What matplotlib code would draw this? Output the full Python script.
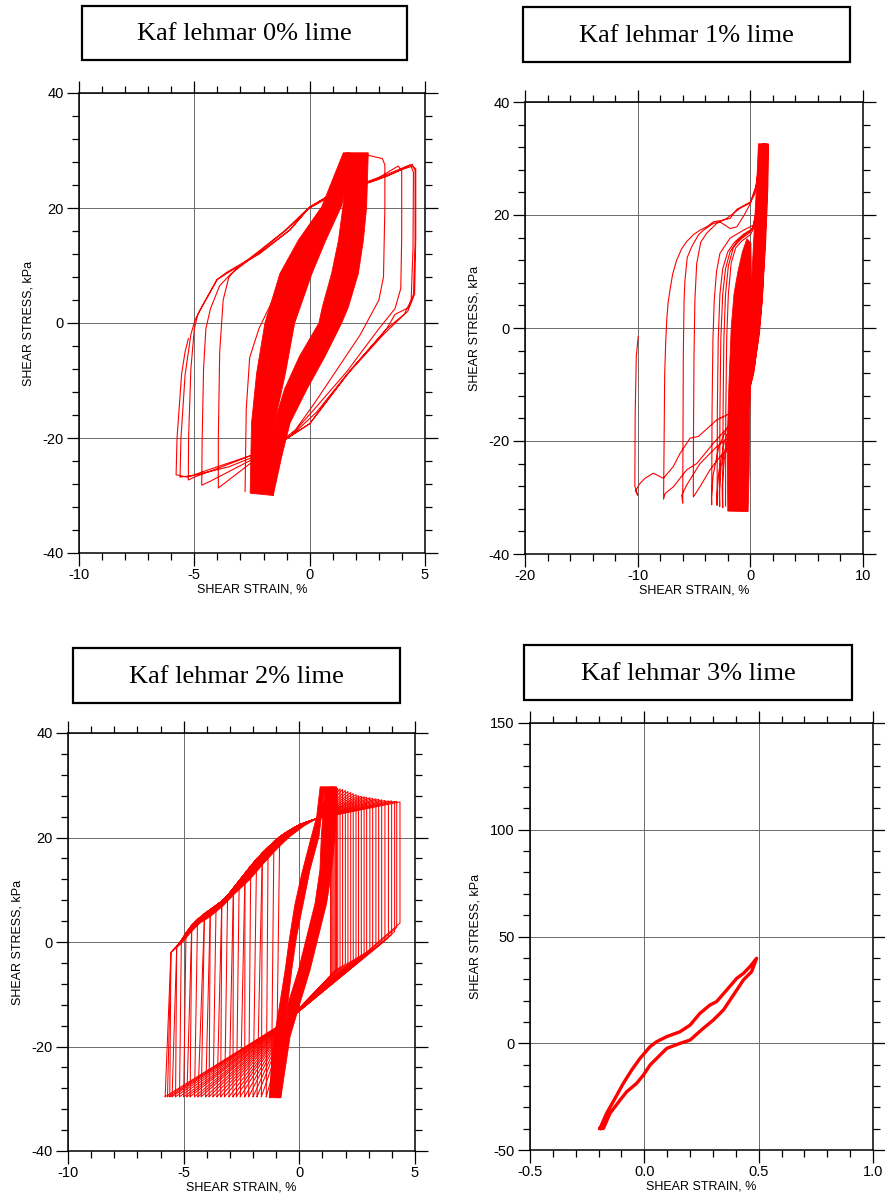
import matplotlib
matplotlib.use("Agg")
import matplotlib.pyplot as plt
from matplotlib.patches import Rectangle
from matplotlib.ticker import MultipleLocator, FormatStrFormatter

plt.rcParams['axes.unicode_minus'] = False
plt.rcParams['font.family'] = ['Liberation Sans', 'DejaVu Sans']

RED = '#ff0000'

# ---------- 1. DATA: Kaf lehmar 0% lime ----------
# dense band of early cycles (boundaries of the loading / unloading branches)
p1_load_out_x = [-2.58, -2.55, -2.52, -2.30, -1.94, -1.29, -0.49, 0.52, 1.46]
p1_load_out_y = [-29.6, -23.2, -17.4, -8.75, 0.0, 8.6, 14.4, 20.2, 29.6]
p1_load_in_x = [-1.58, -1.50, -1.05, -0.65, 0.10, 0.70, 1.40, 1.75]
p1_load_in_y = [-30.0, -17.0, -8.75, 0.0, 8.6, 14.4, 20.5, 29.6]
p1_unld_out_x = [2.54, 2.47, 2.33, 2.11, 1.68, 1.39, 0.66, -0.13, -0.85, -1.21, -1.58]
p1_unld_out_y = [29.6, 20.2, 14.4, 8.6, 2.8, 0.0, -5.85, -11.6, -17.4, -23.2, -30.0]
p1_unld_in_x = [1.60, 1.45, 1.25, 0.95, 0.55, 0.40, -0.45, -1.10, -1.50, -1.60]
p1_unld_in_y = [29.6, 20.5, 14.4, 8.6, 2.8, 0.0, -5.85, -11.6, -17.0, -30.0]

# last large cycles, one continuous record
p1_path_x = [-2.80, -2.75, -2.60, -2.20, -1.60, -0.90, -0.20, 0.60, 1.30, 1.70, 2.50, 3.15, 3.26,
             3.26, 3.20, 3.00, 2.20, 1.20, 0.20, -0.60, -1.50, -2.60, -3.90, -3.96,
             -3.96, -3.90, -3.75, -3.50, -3.17, -2.20, -1.10, -0.10, 0.80, 2.00, 3.00, 3.84, 3.99,
             3.99, 3.95, 3.70, 3.00, 1.60, 0.20, -0.80, -1.80, -3.00, -4.30, -4.68,
             -4.66, -4.60, -4.50, -4.30, -3.90, -3.40, -2.30, -1.00, 0.00, 1.00, 2.20, 3.40, 4.45, 4.57,
             4.57, 4.50, 4.30, 3.70, 3.34, 1.75, 0.00, -1.00, -2.30, -4.00, -5.00, -5.26,
             -5.25, -5.15, -5.00, -4.85, -4.50, -4.00, -3.60, -2.20, -0.85, 0.01, 1.02, 2.00, 3.00, 4.00, 4.40, 4.50,
             4.48, 4.40, 4.10, 3.20, 1.50, 0.30, -0.80, -2.00, -3.50, -5.00, -5.62,
             -5.58, -5.40, -5.15, -4.97, -4.75, -4.03, -3.60, -2.15, -0.85, 0.01, 1.02, 2.10, 3.20, 4.35, 4.60,
             4.60, 4.55, 4.25, 3.34, 1.75, 0.01, -1.00, -2.30, -4.00, -5.30, -5.79,
             -5.75, -5.55, -5.40, -5.26]
p1_path_y = [-29.3, -15.0, -6.0, -1.0, 4.0, 9.5, 14.0, 19.5, 25.0, 29.0, 29.2, 28.6, 27.5,
             20.0, 8.0, 4.0, -2.0, -8.0, -14.0, -18.5, -21.5, -24.5, -28.5, -28.7,
             -20.0, -5.0, 4.0, 8.0, 9.5, 12.5, 16.0, 19.8, 21.8, 23.6, 25.3, 27.3, 26.5,
             15.0, 6.0, 2.5, -1.0, -8.5, -15.0, -19.5, -22.3, -24.8, -27.5, -28.2,
             -20.0, -8.0, -1.0, 2.5, 6.5, 8.6, 12.0, 16.2, 20.0, 22.4, 24.0, 25.6, 27.6, 26.5,
             14.0, 5.0, 2.7, 1.5, -1.0, -8.3, -17.5, -20.1, -22.7, -25.3, -26.8, -27.3,
             -20.0, -8.0, -1.0, 1.5, 4.0, 7.6, 8.8, 12.1, 16.2, 20.2, 22.6, 23.6, 25.0, 26.7, 27.2, 26.2,
             13.0, 4.0, 1.5, -2.0, -9.5, -15.5, -19.6, -22.6, -25.0, -26.5, -26.8,
             -20.0, -9.0, -2.0, 0.5, 2.3, 7.5, 8.6, 12.1, 16.2, 20.2, 22.6, 24.0, 25.6, 27.5, 26.8,
             15.0, 5.0, 2.0, -1.0, -8.3, -17.5, -20.1, -22.7, -25.0, -26.8, -26.4,
             -20.0, -8.8, -5.0, -2.7]

# ---------- 2. DATA: Kaf lehmar 1% lime ----------
p2_block_x = [-2.00, -2.05, -1.90, -1.70, -1.45, -1.10, -0.70, -0.30, 0.05, 0.10, 0.12, 0.05, -0.05, -0.10, -0.20]
p2_block_y = [-32.4, -20.0, -10.0, 0.0, 6.0, 10.0, 13.5, 15.8, 15.0, 8.0, 0.0, -8.0, -15.0, -25.0, -32.5]
p2_band_x = [-0.25, -0.18, -0.03, 0.12, 0.42, 0.60, 0.72, 1.60, 1.55, 1.45, 1.00, 0.71, 0.27, 0.00]
p2_band_y = [-10.0, -6.3, 0.0, 8.5, 20.3, 27.0, 32.6, 32.6, 28.0, 20.3, 8.5, 0.0, -6.3, -10.0]

p2_path_x = [-2.20, -2.18, -2.10, -1.95, -1.70, -1.30, -0.70, 0.00, 0.40, 0.70, 0.90, 1.30,
             1.25, 1.05, 0.80, 0.50, 0.10, -0.30, -1.00, -1.80, -2.30, -2.50, -2.45,
             -2.42, -2.35, -2.20, -1.95, -1.50, -0.80, -0.10, 0.40, 0.75, 0.95, 1.35,
             1.30, 1.10, 0.85, 0.55, 0.15, -0.40, -1.20, -2.00, -2.60, -2.75, -2.72,
             -2.70, -2.62, -2.45, -2.20, -1.80, -1.20, -0.50, 0.20, 0.60, 0.85, 1.05, 1.40,
             1.35, 1.15, 0.90, 0.60, 0.20, -0.50, -1.50, -2.30, -2.80, -2.98, -2.95,
             -2.93, -2.85, -2.70, -2.45, -2.00, -1.40, -0.60, 0.20, 0.60, 0.90, 1.10, 1.45,
             1.38, 1.18, 0.92, 0.62, 0.20, -0.60, -1.80, -2.80, -3.30, -3.45, -3.43,
             -3.40, -3.32, -3.20, -3.00, -2.70, -1.80, -0.62, 0.27, 0.65, 0.95, 1.15, 1.50,
             1.42, 1.20, 0.95, 0.65, 0.20, -0.60, -1.51, -2.69, -3.58, -4.47, -5.06,
             -5.05, -5.00, -4.92, -4.76, -4.40, -3.87, -2.99, -2.10, -0.90, -0.03, 0.50, 0.85, 1.05, 1.50,
             1.45, 1.25, 1.00, 0.70, 0.25, -0.30, -1.00, -1.80, -2.99, -4.47, -5.65, -6.09, -6.00,
             -5.98, -5.95, -5.88, -5.80, -5.60, -5.20, -4.60, -4.17, -3.30, -2.69, -2.10, -1.80, -1.20, -0.60,
             0.00, 0.50, 0.85, 1.10, 1.55,
             1.50, 1.30, 1.05, 0.75, 0.30, -0.30, -1.21, -2.10, -3.28, -4.76, -5.65, -6.83, -7.57, -7.70,
             -7.65, -7.60, -7.50, -7.42, -7.30, -7.13, -6.90, -6.54, -6.10, -5.65, -5.00, -4.47, -3.80, -3.28,
             -2.40, -1.80, -1.20, -0.47, 0.00, 0.42, 0.70, 0.95, 1.20, 1.60,
             1.55, 1.35, 1.05, 0.80, 0.35, 0.00, -0.60, -1.80, -3.00, -4.61, -5.35, -6.24, -6.83, -7.72,
             -8.61, -9.35, -9.79, -10.20, -10.00, -10.25, -10.25, -10.22, -10.12, -9.95]
p2_path_y = [-31.5, -15.0, -2.0, 6.0, 11.5, 14.2, 15.5, 16.5, 18.0, 24.0, 32.2, 32.5,
             25.0, 15.0, 5.0, -1.0, -8.0, -11.5, -15.0, -19.0, -23.0, -28.0, -31.8,
             -15.0, -2.0, 6.0, 11.0, 14.3, 15.8, 16.8, 18.5, 25.0, 32.4, 32.6,
             25.0, 15.0, 5.0, -1.0, -8.0, -12.0, -15.5, -19.5, -24.5, -29.0, -31.6,
             -15.0, -2.0, 6.0, 10.5, 13.5, 15.3, 16.5, 17.5, 21.0, 28.0, 32.5, 32.4,
             24.0, 14.0, 5.0, -1.0, -8.0, -12.5, -16.0, -20.0, -25.5, -30.0, -31.4,
             -15.0, -2.0, 6.0, 10.5, 13.5, 15.2, 16.6, 17.6, 21.0, 29.0, 32.5, 32.3,
             24.0, 14.0, 5.0, -1.0, -8.0, -13.0, -16.5, -21.0, -26.0, -30.0, -31.3,
             -15.0, -2.0, 5.0, 10.0, 13.2, 15.9, 17.3, 18.2, 22.0, 30.0, 32.6, 32.4,
             24.0, 14.0, 5.0, -1.0, -8.0, -14.0, -20.4, -22.8, -25.1, -28.1, -29.9,
             -20.0, -5.0, 5.0, 11.4, 15.2, 16.8, 18.5, 19.4, 21.2, 22.1, 25.0, 30.0, 32.6, 32.5,
             25.0, 15.0, 5.0, -1.0, -8.0, -13.0, -17.5, -19.2, -21.0, -24.0, -27.8, -29.6, -31.0,
             -20.0, -5.0, 5.0, 8.5, 12.5, 14.4, 16.5, 17.3, 18.5, 18.8, 18.0, 17.6, 17.9, 19.8,
             22.0, 25.0, 30.5, 32.6, 32.4,
             25.0, 15.0, 5.0, -1.0, -8.0, -12.5, -16.3, -17.8, -20.4, -24.0, -25.1, -28.1, -29.3, -30.3,
             -20.0, -8.0, -2.0, 1.4, 4.5, 6.7, 9.5, 12.0, 14.0, 15.3, 16.6, 17.3, 18.0, 18.8,
             19.1, 19.4, 21.0, 21.8, 22.3, 23.8, 27.0, 31.5, 32.5, 32.3,
             25.0, 15.0, 5.0, -1.0, -7.0, -9.5, -12.5, -15.1, -16.3, -19.2, -19.5, -22.2, -24.5, -26.6,
             -25.7, -26.6, -27.5, -28.8, -29.6, -28.0, -27.0, -15.0, -5.0, -1.5]

# ---------- 3. DATA: Kaf lehmar 2% lime ----------
p3_load_out_x = [-1.30, -1.15, -0.85, -0.60, -0.45, -0.20, 0.10, 0.45, 0.75, 0.90]
p3_load_out_y = [-29.8, -20.0, -12.0, -5.0, 0.0, 7.0, 13.0, 19.0, 24.0, 29.7]
p3_load_in_x = [-0.80, -0.75, -0.48, -0.33, -0.12, 0.17, 0.46, 0.85, 1.10]
p3_load_in_y = [-29.8, -20.0, -11.1, -5.4, 1.0, 7.4, 13.8, 20.2, 29.7]
p3_unld_out_x = [1.61, 1.61, 1.54, 1.40, 1.18, 0.82, 0.46, 0.03, -0.40, -0.80]
p3_unld_out_y = [29.7, 26.5, 20.2, 13.8, 7.4, 1.0, -5.4, -11.7, -18.1, -29.8]
p3_unld_in_x = [1.11, 0.95, 0.89, 0.68, 0.32, -0.04, -0.48, -0.69, -1.00]
p3_unld_in_y = [29.7, 20.2, 13.8, 7.4, 1.0, -5.4, -11.7, -18.1, -29.8]

# upper-left envelope that the loading branches bend into
p3_env_x = [-5.55, -5.30, -5.10, -4.90, -4.65, -4.40, -4.10, -3.85, -3.60, -3.35, -3.10, -2.85, -2.60,
            -2.35, -2.10, -1.85, -1.60, -1.35, -1.10, -0.85, -0.55, -0.25, 0.05, 0.40, 0.75]
p3_env_y = [-2.0, -0.8, 0.3, 1.7, 3.2, 4.3, 5.4, 6.2, 7.0, 7.8, 8.9, 10.3, 11.7,
            13.1, 14.5, 15.8, 17.0, 18.1, 19.1, 20.1, 21.0, 21.8, 22.5, 23.1, 23.6]
p3_env_in_x = [-5.10, -4.70, -4.30, -3.85, -3.30, -2.80, -2.15, -1.55, -0.95, -0.40, 0.20, 0.75]
p3_env_in_y = [-0.3, 1.8, 3.6, 4.85, 6.9, 9.2, 11.9, 15.0, 17.9, 20.2, 22.2, 23.6]

# per-cycle corners of the growing loops
p3_left_x = [-1.00, -1.21, -1.43, -1.64, -1.83, -2.00, -2.19, -2.36, -2.55, -2.72, -2.87, -3.04, -3.23, -3.40, -3.56,
             -3.73, -3.90, -4.05, -4.24, -4.38, -4.53, -4.72, -4.86, -5.00, -5.18, -5.35, -5.50, -5.60, -5.70, -5.80]
p3_right_x = [1.35, 1.40, 1.45, 1.50, 1.55, 1.58, 1.61, 1.66, 1.76, 1.87, 1.99, 2.10, 2.22, 2.33, 2.45,
              2.56, 2.68, 2.80, 2.91, 3.05, 3.17, 3.31, 3.43, 3.56, 3.70, 3.85, 3.99, 4.12, 4.21, 4.35]
p3_top_y = [29.7, 29.7, 29.7, 29.7, 29.6, 29.6, 29.5, 29.4, 29.3, 29.2, 29.0, 28.8, 28.6, 28.4, 28.2,
            28.0, 27.9, 27.8, 27.7, 27.6, 27.5, 27.4, 27.3, 27.2, 27.1, 27.0, 27.0, 26.9, 26.9, 26.8]
p3_knee_y = [-6.5, -6.3, -6.0, -5.8, -5.6, -5.4, -5.2, -5.0, -4.8, -4.5, -4.2, -4.0, -3.7, -3.4, -3.1,
             -2.8, -2.5, -2.2, -1.9, -1.6, -1.3, -1.0, -0.6, -0.2, 0.3, 0.8, 1.4, 2.0, 2.8, 3.6]
p3_bottom_y = -29.6
p3_conv = (-0.5, -15.0)

# ---------- 4. DATA: Kaf lehmar 3% lime ----------
p4_x = [-0.194, -0.165, -0.128, -0.092, -0.055, -0.019, 0.025, 0.054, 0.098, 0.156, 0.200, 0.243, 0.287,
        0.316, 0.360, 0.404, 0.433, 0.462, 0.491,
        0.469, 0.433, 0.404, 0.346, 0.302, 0.258, 0.200, 0.156, 0.098, 0.054, 0.025, -0.004, -0.034,
        -0.077, -0.106, -0.150, -0.179, -0.194]
p4_y = [-39.9, -32.8, -25.8, -18.8, -12.5, -7.1, -1.6, 0.75, 3.1, 5.4, 8.5, 14.0, 17.9,
        19.5, 24.9, 30.4, 32.7, 35.9, 39.8,
        33.5, 29.6, 24.9, 15.6, 10.9, 7.0, 1.5, -0.05, -2.4, -7.1, -10.2, -14.9, -18.8,
        -22.7, -26.6, -32.8, -39.9, -39.9]

titles = ['Kaf lehmar 0% lime', 'Kaf lehmar 1% lime', 'Kaf lehmar 2% lime', 'Kaf lehmar 3% lime']


def style_axes(ax, xlim, ylim, xmaj, xmin, ymaj, ymin, xfmt=None):
    ax.set_xlim(xlim)
    ax.set_ylim(ylim)
    ax.xaxis.set_major_locator(MultipleLocator(xmaj))
    ax.xaxis.set_minor_locator(MultipleLocator(xmin))
    ax.yaxis.set_major_locator(MultipleLocator(ymaj))
    ax.yaxis.set_minor_locator(MultipleLocator(ymin))
    if xfmt:
        ax.xaxis.set_major_formatter(FormatStrFormatter(xfmt))
    ax.tick_params(which='both', direction='out', top=True, right=True, width=0.9, labelsize=10.5)
    ax.tick_params(which='major', length=9, pad=2)
    ax.tick_params(which='minor', length=5)
    for s in ax.spines.values():
        s.set_linewidth(1.1)
    ax.grid(True, which='major', color='#6a6a6a', lw=0.7)
    ax.set_axisbelow(True)
    ax.set_xlabel('SHEAR STRAIN, %', fontsize=9, labelpad=1)
    ax.set_ylabel('SHEAR STRESS, kPa', fontsize=9, labelpad=6)


def band(ax, ox, oy, ix, iy):
    ax.fill(ox + ix[::-1], oy + iy[::-1], color=RED, lw=0.6, zorder=3)


fig = plt.figure(figsize=(8.85, 11.93), dpi=100)
W, H = 885, 1193


def add_axes(l, r, t, b):
    return fig.add_axes([l / W, 1 - b / H, (r - l) / W, (b - t) / H])


# panel 1
ax1 = add_axes(79, 425, 93, 553)
band(ax1, p1_load_out_x, p1_load_out_y, p1_load_in_x, p1_load_in_y)
band(ax1, p1_unld_out_x, p1_unld_out_y, p1_unld_in_x, p1_unld_in_y)
ax1.plot(p1_path_x, p1_path_y, color=RED, lw=0.8, zorder=3)
style_axes(ax1, (-10, 5), (-40, 40), 5, 1, 20, 4)

# panel 2
ax2 = add_axes(525, 863, 102, 554)
ax2.fill(p2_block_x, p2_block_y, color=RED, lw=0.6, zorder=3)
ax2.fill(p2_band_x, p2_band_y, color=RED, lw=0.6, zorder=3)
ax2.plot(p2_path_x, p2_path_y, color=RED, lw=0.8, zorder=3)
style_axes(ax2, (-20, 10), (-40, 40), 10, 2, 20, 4)

# panel 3
ax3 = add_axes(68, 415, 733, 1151)
band(ax3, p3_load_out_x, p3_load_out_y, p3_load_in_x, p3_load_in_y)
band(ax3, p3_unld_out_x, p3_unld_out_y, p3_unld_in_x, p3_unld_in_y)
band(ax3, p3_env_x, p3_env_y, p3_env_in_x, p3_env_in_y)
for L, R, top, knee in zip(p3_left_x, p3_right_x, p3_top_y, p3_knee_y):
    k = next(i for i, ex in enumerate(p3_env_x) if ex > L)
    xs = [L] + p3_env_x[k:] + [R, R, p3_conv[0], L]
    ys = [p3_bottom_y] + p3_env_y[k:] + [top, knee, p3_conv[1], p3_bottom_y]
    ax3.plot(xs, ys, color=RED, lw=0.75, zorder=3)
style_axes(ax3, (-10, 5), (-40, 40), 5, 1, 20, 4)

# panel 4
ax4 = add_axes(530, 873, 723, 1150)
ax4.plot(p4_x, p4_y, color=RED, lw=2.4, zorder=3, solid_joinstyle='round')
style_axes(ax4, (-0.5, 1.0), (-50, 150), 0.5, 0.1, 50, 10, xfmt='%.1f')

# title boxes
boxes = [(82, 407, 6, 60), (523, 850, 7, 62), (73, 400, 648, 703), (524, 852, 645, 700)]
for (l, r, t, b), title in zip(boxes, titles):
    fig.patches.append(Rectangle((l / W, 1 - b / H), (r - l) / W, (b - t) / H,
                                 transform=fig.transFigure, fill=False, ec='black', lw=1.6))
    fig.text((l + r) / 2 / W, 1 - (t + b) / 2 / H - 0.001, title, ha='center', va='center',
             fontsize=19, family=['Liberation Serif', 'DejaVu Serif'])

fig.savefig('out.png', dpi=100)
